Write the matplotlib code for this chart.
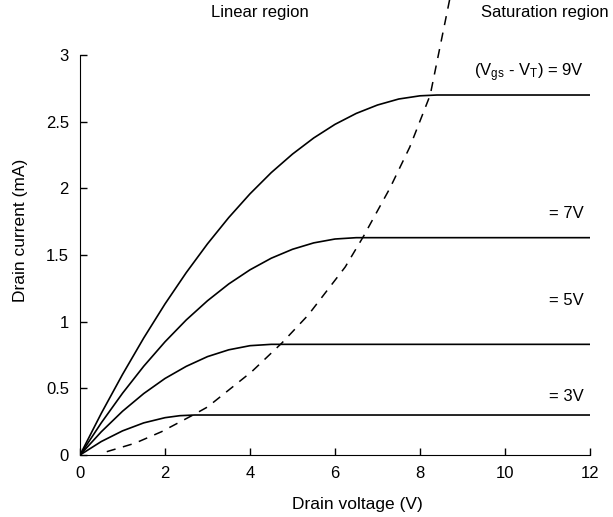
import matplotlib
matplotlib.use("Agg")
import matplotlib.pyplot as plt

plt.rcParams['font.family'] = ['Liberation Sans', 'DejaVu Sans']
plt.rcParams['mathtext.default'] = 'regular'

# ------------------------------------------------------
# data
# ------------------------------------------------------
vd_3 = [0, 0.5, 1, 1.5, 2, 2.35, 2.7, 12]
id_3 = [0, 0.101, 0.181, 0.241, 0.280, 0.295, 0.30, 0.30]

vd_5 = [0, 0.5, 1, 1.5, 2, 2.5, 3, 3.5, 4, 4.5, 12]
id_5 = [0, 0.174, 0.328, 0.461, 0.574, 0.665, 0.738, 0.789, 0.820, 0.83, 0.83]

vd_7 = [0, 0.5, 1, 1.5, 2, 2.5, 3, 3.5, 4, 4.5, 5, 5.5, 6, 6.5, 12]
id_7 = [0, 0.241, 0.463, 0.666, 0.849, 1.013, 1.157, 1.283, 1.389, 1.476,
        1.543, 1.591, 1.620, 1.63, 1.63]

vd_9 = [0, 0.5, 1, 1.5, 2, 2.5, 3, 3.5, 4, 4.5, 5, 5.5, 6, 6.5, 7, 7.5, 8, 8.4, 12]
id_9 = [0, 0.312, 0.604, 0.878, 1.133, 1.368, 1.584, 1.781, 1.959, 2.118,
        2.257, 2.378, 2.480, 2.562, 2.625, 2.670, 2.694, 2.70, 2.70]

# boundary between linear and saturation region (dashed)
vd_sat = [0.63, 1.29, 1.92, 2.66, 3.0, 4.04, 4.75, 5.37, 6.24, 6.67, 7.29, 7.76, 8.24, 8.63, 8.70]
id_sat = [0.025, 0.088, 0.175, 0.30, 0.36, 0.625, 0.84, 1.05, 1.41, 1.64, 2.0, 2.31, 2.70, 3.31, 3.42]

curve_labels = [r"(V$_{gs}$ - V$_{T}$) = 9V", "= 7V", "= 5V", "= 3V"]
label_y = [2.87, 1.81, 1.16, 0.44]

x_ticks = [0, 2, 4, 6, 8, 10, 12]
y_ticks = [0, 0.5, 1, 1.5, 2, 2.5, 3]
y_tick_labels = ["0", "0.5", "1", "1.5", "2", "2.5", "3"]

# ------------------------------------------------------
# plot
# ------------------------------------------------------
fig = plt.figure(figsize=(6.13, 5.17), dpi=100)
ax = fig.add_axes([0.1305, 0.1199, 0.832, 0.7737])

for vd, idr in [(vd_3, id_3), (vd_5, id_5), (vd_7, id_7), (vd_9, id_9)]:
    ax.plot(vd, idr, color="black", linewidth=1.2)

ax.plot(vd_sat, id_sat, color="black", linewidth=1.1,
        linestyle=(0, (6, 5)), clip_on=False)

for txt, yy in zip(curve_labels, label_y):
    ax.text(11.85, yy, txt, ha="right", va="center", fontsize=12)

ax.text(4.24, 3.32, "Linear region", ha="center", va="center", fontsize=12)
ax.text(10.94, 3.32, "Saturation region", ha="center", va="center", fontsize=12)

ax.set_xlim(0, 12)
ax.set_ylim(0, 3)
ax.set_xticks(x_ticks)
ax.set_yticks(y_ticks)
ax.set_yticklabels(y_tick_labels)
ax.tick_params(direction="in", length=5, width=1, labelsize=12, pad=8)

ax.spines["top"].set_visible(False)
ax.spines["right"].set_visible(False)

ax.set_xlabel("Drain voltage (V)", fontsize=12.5)
ax.set_ylabel("Drain current (mA)", fontsize=12.5)
ax.xaxis.set_label_coords(0.543, -0.105)
ax.yaxis.set_label_coords(-0.102, 0.5625)

fig.savefig("out.png", dpi=100)
